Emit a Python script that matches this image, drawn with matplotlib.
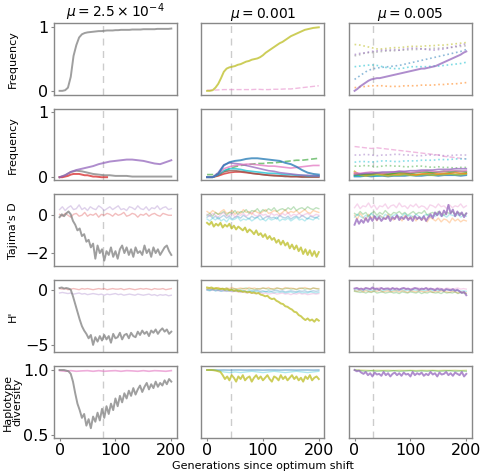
import matplotlib
matplotlib.use("Agg")
import matplotlib.pyplot as plt
import numpy as np

# --- Підписи та осі ---
col_titles = [r"$\mu = 2.5 \times 10^{-4}$", r"$\mu = 0.001$", r"$\mu = 0.005$"]
row_labels = ["Frequency", "Frequency", "Tajima's D", "H'", "Haplotype\ndiversity"]
row_ylims = [(-0.06, 1.07), (-0.05, 1.05), (-2.7, 1.1), (-5.65, 0.85), (0.475, 1.03)]
row_yticks = [[0, 1], [0, 1], [-2, 0], [-5, 0], [0.5, 1.0]]
x_ticks = [0, 100, 200]
shift_gen = [78, 43, 33]  # dashed vertical line per column

# --- Row 1: sweep frequency ---
freq1_mu1_gray = [0, 0, 0.01, 0.05, 0.22, 0.55, 0.72, 0.84, 0.89, 0.91, 0.92, 0.925, 0.93, 0.935,
                  0.94, 0.94, 0.945, 0.95, 0.95, 0.95, 0.955, 0.955, 0.96, 0.96, 0.96, 0.96, 0.965,
                  0.965, 0.965, 0.965, 0.97, 0.97, 0.97, 0.97, 0.97, 0.975, 0.975, 0.975, 0.975,
                  0.975, 0.98]
freq1_mu2_olive = [0, 0, 0.01, 0.05, 0.11, 0.2, 0.3, 0.35, 0.37, 0.38, 0.39, 0.41, 0.42, 0.44, 0.46,
                   0.47, 0.49, 0.5, 0.51, 0.53, 0.56, 0.6, 0.63, 0.66, 0.69, 0.72, 0.75, 0.77, 0.8,
                   0.83, 0.86, 0.88, 0.9, 0.92, 0.94, 0.96, 0.97, 0.98, 0.99, 0.995, 1.0]
freq1_mu2_pink = [0.01, 0.01, 0.015, 0.02, 0.02, 0.02, 0.02, 0.02, 0.02, 0.025, 0.02, 0.02, 0.025,
                  0.025, 0.03, 0.03, 0.04, 0.05, 0.06, 0.07, 0.08]
freq1_mu3_purple = [0.0, 0.03, 0.07, 0.1, 0.13, 0.16, 0.18, 0.19, 0.2, 0.2, 0.21, 0.22, 0.23, 0.24,
                    0.25, 0.26, 0.27, 0.28, 0.29, 0.3, 0.31, 0.32, 0.33, 0.34, 0.35, 0.35, 0.36, 0.37,
                    0.38, 0.39, 0.41, 0.43, 0.45, 0.47, 0.49, 0.51, 0.53, 0.55, 0.57, 0.6, 0.62]
freq1_mu3_yellow = [0.73, 0.72, 0.7, 0.68, 0.66, 0.66, 0.67, 0.68, 0.68, 0.69, 0.7, 0.7, 0.7, 0.71,
                    0.71, 0.72, 0.72, 0.73, 0.74, 0.75, 0.76]
freq1_mu3_lilac = [0.57, 0.59, 0.6, 0.62, 0.63, 0.64, 0.64, 0.65, 0.64, 0.66, 0.67, 0.67, 0.66, 0.65,
                   0.64, 0.65, 0.66, 0.68, 0.7, 0.72, 0.74]
freq1_mu3_grey = [0.55, 0.57, 0.6, 0.6, 0.61, 0.62, 0.63, 0.63, 0.64, 0.64, 0.65, 0.65, 0.66, 0.66,
                  0.67, 0.67, 0.68, 0.68, 0.69, 0.7, 0.71]
freq1_mu3_cyan = [0.38, 0.39, 0.4, 0.41, 0.4, 0.38, 0.36, 0.35, 0.35, 0.36, 0.38, 0.38, 0.38, 0.38,
                  0.39, 0.39, 0.4, 0.41, 0.42, 0.43, 0.45]
freq1_mu3_blue = [0.18, 0.24, 0.3, 0.34, 0.36, 0.37, 0.38, 0.39, 0.4, 0.42, 0.44, 0.46, 0.48, 0.5,
                  0.52, 0.54, 0.56, 0.58, 0.6, 0.62, 0.65]
freq1_mu3_orange = [0.05, 0.06, 0.07, 0.08, 0.08, 0.08, 0.07, 0.07, 0.07, 0.08, 0.08, 0.08, 0.09,
                    0.09, 0.09, 0.1, 0.1, 0.11, 0.11, 0.12, 0.13]

# --- Row 2: other haplotype frequencies ---
freq2_mu1_purple = [0, 0.03, 0.08, 0.11, 0.13, 0.15, 0.17, 0.2, 0.22, 0.24, 0.25, 0.26, 0.27, 0.27,
                    0.26, 0.25, 0.23, 0.21, 0.2, 0.23, 0.26]
freq2_mu1_gray = [0, 0.03, 0.08, 0.1, 0.09, 0.07, 0.05, 0.04, 0.03, 0.03, 0.02, 0.02, 0.02, 0.01,
                  0.01, 0.01, 0.01, 0.01, 0.01, 0.01, 0.01]
freq2_mu1_red = [0, 0, 0.01, 0.02, 0.04, 0.05, 0.05, 0.05, 0.04, 0.03, 0.03, 0.02, 0.01, 0.01,
                 0.005, 0, 0, 0]  # lost at generation 85
freq2_mu2_blue = [0, 0, 0.05, 0.18, 0.23, 0.25, 0.26, 0.28, 0.29, 0.29, 0.28, 0.27, 0.26, 0.25,
                  0.22, 0.2, 0.16, 0.11, 0.07, 0.05, 0.04]
freq2_mu2_purple = [0, 0, 0.07, 0.19, 0.22, 0.21, 0.2, 0.18, 0.16, 0.14, 0.12, 0.1, 0.09, 0.07,
                    0.06, 0.05, 0.04, 0.03, 0.03, 0.02, 0.02]
freq2_mu2_pink = [0, 0, 0.05, 0.13, 0.16, 0.18, 0.19, 0.2, 0.2, 0.19, 0.18, 0.17, 0.17, 0.16, 0.15,
                  0.14, 0.15, 0.16, 0.17, 0.18, 0.18]
freq2_mu2_green = [0.04, 0.04, 0.05, 0.09, 0.13, 0.16, 0.18, 0.19, 0.2, 0.21, 0.21, 0.22, 0.22,
                   0.23, 0.24, 0.25, 0.26, 0.26, 0.27, 0.28, 0.29]
freq2_mu2_cyan = [0, 0, 0.04, 0.1, 0.13, 0.13, 0.12, 0.1, 0.09, 0.08, 0.07, 0.06, 0.06, 0.05, 0.04,
                  0.04, 0.03, 0.03, 0.02, 0.02, 0.02]
freq2_mu2_brown = [0, 0, 0.03, 0.08, 0.1, 0.1, 0.09, 0.08, 0.06, 0.05, 0.04, 0.03, 0.02, 0.02, 0.01,
                   0.01, 0.01, 0.0, 0.0, 0.0, 0.0]
freq2_mu2_red = [0, 0, 0.02, 0.05, 0.07, 0.08, 0.08, 0.07, 0.06, 0.05, 0.04, 0.03, 0.03, 0.02, 0.02,
                 0.01, 0.01, 0.01, 0.01, 0.01, 0.01]
freq2_mu3_pink = [0.47, 0.46, 0.45, 0.44, 0.45, 0.44, 0.43, 0.42, 0.41, 0.4, 0.39, 0.38, 0.37, 0.36,
                  0.35, 0.34, 0.32, 0.31, 0.3, 0.29, 0.28]
freq2_mu3_grey = [0.34, 0.34, 0.35, 0.34, 0.33, 0.34, 0.34, 0.35, 0.35, 0.34, 0.34, 0.33, 0.33, 0.34,
                  0.34, 0.34, 0.33, 0.33, 0.34, 0.34, 0.34]
freq2_mu3_cyan = [0.23, 0.24, 0.24, 0.23, 0.24, 0.25, 0.25, 0.24, 0.24, 0.25, 0.25, 0.25, 0.26, 0.26,
                  0.26, 0.27, 0.27, 0.27, 0.28, 0.28, 0.28]
freq2_mu3_green = [0.17, 0.17, 0.18, 0.17, 0.16, 0.17, 0.18, 0.17, 0.17, 0.16, 0.16, 0.17, 0.17,
                   0.16, 0.15, 0.16, 0.15, 0.15, 0.14, 0.15, 0.15]
freq2_mu3_purple = [0.04, 0.05, 0.06, 0.06, 0.07, 0.08, 0.08, 0.08, 0.09, 0.09, 0.1, 0.1, 0.11, 0.11,
                    0.11, 0.12, 0.12, 0.12, 0.13, 0.13, 0.13]
freq2_mu3_magenta = [0.07, 0.06, 0.07, 0.08, 0.07, 0.06, 0.07, 0.08, 0.09, 0.08, 0.07, 0.08, 0.09,
                     0.1, 0.09, 0.08, 0.09, 0.1, 0.1, 0.09, 0.1]
freq2_mu3_green_s = [0.03, 0.04, 0.05, 0.05, 0.06, 0.06, 0.05, 0.06, 0.07, 0.07, 0.06, 0.07, 0.08,
                     0.08, 0.07, 0.08, 0.09, 0.08, 0.09, 0.09, 0.08]
freq2_mu3_teal = [0.02, 0.02, 0.03, 0.03, 0.02, 0.03, 0.04, 0.03, 0.03, 0.04, 0.04, 0.03, 0.04, 0.05,
                  0.04, 0.04, 0.05, 0.05, 0.04, 0.05, 0.05]
freq2_mu3_olive = [0.09, 0.03, 0.02, 0.03, 0.04, 0.03, 0.02, 0.03, 0.03, 0.04, 0.03, 0.03, 0.04, 0.04,
                   0.03, 0.04, 0.04, 0.05, 0.04, 0.04, 0.05]
freq2_mu3_orange = [0.06, 0.05, 0.04, 0.05, 0.06, 0.05, 0.04, 0.05, 0.05, 0.06, 0.05, 0.04, 0.05,
                    0.06, 0.06, 0.05, 0.06, 0.06, 0.07, 0.06, 0.06]
freq2_mu3_blue = [0.01, 0.01, 0.02, 0.01, 0.02, 0.02, 0.01, 0.02, 0.02, 0.02, 0.03, 0.02, 0.02, 0.03,
                  0.03, 0.02, 0.03, 0.03, 0.03, 0.02, 0.03]

# --- Row 3: Tajima's D ---
taj_mu1_gray = [-0.1, 0.05, -0.05, 0.1, 0.2, 0.05, -0.3, -0.5, -0.8, -0.7, -1.1, -1.0, -1.4, -1.3,
                -1.7, -1.5, -2.3, -1.6, -2.0, -1.8, -2.4, -1.9, -2.1, -1.7, -2.2, -1.9, -2.3, -1.8,
                -1.6, -2.0, -1.7, -2.1, -1.8, -2.2, -1.7, -2.0, -1.9, -2.1, -1.6, -2.0, -1.8, -2.2,
                -1.7, -2.0, -1.8, -2.1, -1.9, -1.7, -1.6, -1.9, -2.1]
taj_mu1_lilac = [0.3, 0.45, 0.25, 0.4, 0.5, 0.3, 0.35, 0.55, 0.3, 0.4, 0.25, 0.45, 0.35, 0.3, 0.5,
                 0.4, 0.25, 0.35, 0.45, 0.3, 0.4, 0.5, 0.3, 0.35, 0.25, 0.45, 0.4, 0.3, 0.5, 0.35, 0.3,
                 0.45, 0.25, 0.4, 0.35, 0.5, 0.3, 0.4, 0.45, 0.3, 0.35]
taj_mu1_red = [0.05, -0.05, 0.1, 0.0, -0.1, 0.05, 0.1, -0.05, 0.0, 0.15, -0.05, 0.05, 0.0, 0.1, -0.1,
               0.05, 0.0, 0.1, 0.05, -0.05, 0.1, 0.0, 0.05, 0.15, -0.05, 0.0, 0.1, 0.05, -0.1, 0.05,
               0.0, 0.1, -0.05, 0.05, 0.1, 0.0, -0.05, 0.1, 0.05, 0.0, 0.0]
taj_mu2_olive = [-0.4, -0.5, -0.35, -0.6, -0.45, -0.55, -0.4, -0.65, -0.5, -0.6, -0.45, -0.7, -0.55,
                 -0.75, -0.6, -0.7, -0.8, -0.65, -0.9, -0.75, -0.85, -1.0, -0.8, -1.05, -0.95, -1.15,
                 -1.0, -1.25, -1.1, -1.3, -1.2, -1.45, -1.3, -1.55, -1.35, -1.6, -1.45, -1.75, -1.55,
                 -1.8, -1.6, -1.9, -1.7, -2.05, -1.8, -2.1, -1.85, -2.15, -1.9, -2.2, -1.95]
taj_mu2_orange = [0.2, 0.1, 0.25, 0.15, 0.05, 0.2, 0.3, 0.1, 0.15, 0.25, 0.05, 0.2, 0.1, 0.3, 0.15,
                  0.2, 0.05, 0.25, 0.15, 0.1, 0.2, 0.3, 0.1, 0.15, 0.25, 0.2, 0.05, 0.15, 0.3, 0.1,
                  0.2, 0.15, 0.25, 0.1, 0.2, 0.3, 0.15, 0.1, 0.25, 0.2, 0.15]
taj_mu2_green = [0.0, 0.1, -0.05, 0.15, 0.05, 0.1, 0.2, 0.0, 0.15, 0.1, 0.25, 0.05, 0.2, 0.15, 0.3,
                 0.1, 0.25, 0.2, 0.35, 0.15, 0.3, 0.2, 0.35, 0.25, 0.4, 0.2, 0.3, 0.35, 0.25, 0.4, 0.3,
                 0.45, 0.25, 0.35, 0.4, 0.3, 0.45, 0.35, 0.3, 0.4, 0.35]
taj_mu2_blue = [-0.1, 0.0, -0.15, -0.05, -0.2, -0.1, 0.0, -0.15, -0.05, -0.2, -0.1, -0.05, -0.15,
                0.0, -0.1, -0.2, -0.05, -0.15, -0.1, 0.0, -0.2, -0.1, -0.05, -0.15, -0.1, -0.2, 0.0,
                -0.1, -0.15, -0.05, -0.2, -0.1, -0.05, -0.15, 0.0, -0.1, -0.2, -0.05, -0.1, -0.15,
                -0.05]
taj_mu2_pink = [0.05, -0.05, 0.1, 0.0, -0.1, 0.05, 0.15, -0.05, 0.0, 0.1, -0.1, 0.05, 0.0, 0.1,
                -0.05, 0.05, 0.15, 0.0, -0.05, 0.1, 0.0, 0.05, -0.1, 0.1, 0.0, 0.05, -0.05, 0.1, 0.0,
                0.15, -0.05, 0.05, 0.0, 0.1, -0.05, 0.05, 0.1, 0.0, -0.05, 0.05, 0.0]
taj_mu2_cyan = [-0.2, -0.3, -0.15, -0.25, -0.1, -0.3, -0.2, -0.35, -0.15, -0.25, -0.2, -0.1, -0.3,
                -0.2, -0.25, -0.15, -0.3, -0.2, -0.1, -0.25, -0.2, -0.3, -0.15, -0.25, -0.2, -0.1,
                -0.3, -0.2, -0.25, -0.15, -0.3, -0.2, -0.1, -0.25, -0.2, -0.3, -0.15, -0.2, -0.25,
                -0.1, -0.2]
taj_mu3_purple = [-0.5, -0.2, -0.45, -0.25, -0.4, -0.15, -0.35, -0.1, -0.3, -0.05, -0.25, -0.1, -0.3,
                  -0.15, -0.2, -0.05, -0.3, -0.1, -0.2, 0.0, -0.25, -0.1, -0.2, -0.05, -0.25, -0.1,
                  -0.3, -0.05, -0.2, -0.1, -0.25, -0.05, -0.3, -0.1, 0.05, -0.15, 0.15, 0.0, 0.2,
                  -0.05, 0.25, 0.05, 0.55, 0.1, 0.3, -0.05, 0.2, 0.0, 0.15, -0.1, 0.1]
taj_mu3_pink = [0.4, 0.6, 0.35, 0.5, 0.45, 0.65, 0.4, 0.55, 0.3, 0.5, 0.45, 0.6, 0.35, 0.5, 0.55,
                0.4, 0.65, 0.45, 0.5, 0.35, 0.55, 0.45, 0.6, 0.4, 0.5, 0.45, 0.3, 0.55, 0.5, 0.4, 0.6,
                0.45, 0.5, 0.35, 0.55, 0.4, 0.5, 0.45, 0.6, 0.4, 0.5]
taj_mu3_orange = [0.0, -0.2, 0.1, -0.1, -0.25, 0.05, -0.15, -0.05, -0.3, 0.0, -0.1, -0.2, 0.05,
                  -0.15, -0.25, -0.05, -0.1, -0.3, 0.0, -0.15, -0.2, -0.05, -0.3, -0.1, -0.25, -0.15,
                  -0.35, -0.1, -0.2, -0.3, -0.15, -0.35, -0.2, -0.25, -0.4, -0.15, -0.3, -0.2, -0.35,
                  -0.25, -0.3]
taj_mu3_green = [0.1, 0.0, 0.2, 0.05, 0.15, -0.05, 0.1, 0.2, 0.0, 0.15, 0.05, 0.25, 0.1, 0.0, 0.15,
                 0.1, 0.2, 0.05, 0.15, 0.0, 0.1, 0.2, 0.05, 0.15, 0.1, 0.25, 0.0, 0.1, 0.15, 0.05, 0.2,
                 0.1, 0.0, 0.15, 0.1, 0.2, 0.05, 0.15, 0.1, 0.0, 0.1]
taj_mu3_cyan = [-0.1, 0.05, -0.05, -0.15, 0.0, -0.1, 0.1, -0.05, -0.1, 0.0, -0.15, 0.05, -0.05, -0.1,
                0.0, 0.05, -0.1, -0.05, 0.1, -0.05, 0.0, -0.1, 0.05, -0.05, -0.15, 0.0, 0.05, -0.1,
                0.0, -0.05, 0.1, -0.05, 0.0, -0.1, 0.05, 0.0, -0.05, 0.05, -0.1, 0.0, -0.05]

# --- Row 4: H' ---
h_mu1_gray = [0.15, 0.2, 0.1, 0.15, 0.1, 0.0, -0.6, -1.3, -2.0, -2.7, -3.3, -3.7, -4.0, -4.4, -4.1,
              -5.0, -4.3, -4.7, -4.2, -4.6, -4.1, -4.5, -4.2, -4.8, -4.0, -4.4, -4.3, -3.9, -4.5,
              -4.1, -4.0, -4.4, -3.9, -4.2, -4.3, -3.8, -4.1, -3.7, -4.0, -3.8, -4.2, -3.7, -3.9,
              -3.6, -4.0, -3.7, -3.5, -3.8, -3.6, -4.0, -3.8]
h_mu1_red = [0.1, 0.05, 0.1, 0.0, 0.05, 0.1, 0.05, 0.0, 0.1, 0.05, 0.1, 0.05, 0.0, 0.05, 0.1, 0.05,
             0.1, 0.0, 0.05, 0.1, 0.05, 0.05, 0.1, 0.0, 0.05, 0.1, 0.05, 0.0, 0.05, 0.1, 0.05, 0.1,
             0.05, 0.0, 0.1, 0.05, 0.05, 0.1, 0.0, 0.05, 0.1]
h_mu1_lilac = [-0.3, -0.25, -0.3, -0.35, -0.3, -0.4, -0.35, -0.3, -0.4, -0.35, -0.45, -0.4, -0.35,
               -0.4, -0.45, -0.4, -0.5, -0.4, -0.45, -0.4, -0.35, -0.45, -0.4, -0.5, -0.45, -0.4,
               -0.45, -0.5, -0.4, -0.45, -0.5, -0.45, -0.4, -0.5, -0.45, -0.55, -0.45, -0.5, -0.45,
               -0.55, -0.5]
h_mu2_olive = [0.2, 0.15, 0.2, 0.1, 0.15, 0.1, 0.05, 0.1, 0.0, 0.05, -0.05, 0.0, -0.1, -0.05, -0.15,
               -0.1, -0.2, -0.15, -0.25, -0.2, -0.3, -0.25, -0.35, -0.3, -0.45, -0.5, -0.6, -0.55,
               -0.75, -0.85, -0.8, -1.0, -1.1, -1.25, -1.3, -1.5, -1.55, -1.7, -1.8, -2.0, -2.05,
               -2.3, -2.4, -2.6, -2.75, -2.6, -2.8, -2.7, -2.9, -2.65, -2.8]
h_mu2_green = [0.05, 0.0, 0.1, 0.05, 0.0, 0.1, 0.05, 0.15, 0.0, 0.05, 0.1, 0.0, 0.05, 0.1, 0.15, 0.05,
               0.1, 0.0, 0.1, 0.05, 0.15, 0.1, 0.05, 0.1, 0.0, 0.15, 0.1, 0.05, 0.1, 0.15, 0.05, 0.1,
               0.0, 0.1, 0.15, 0.05, 0.1, 0.05, 0.15, 0.1, 0.05]
h_mu2_cyan = [0.0, -0.05, 0.0, -0.1, -0.05, -0.1, -0.05, -0.15, -0.1, -0.05, -0.15, -0.1, -0.2, -0.1,
              -0.15, -0.2, -0.1, -0.2, -0.15, -0.25, -0.2, -0.15, -0.25, -0.2, -0.3, -0.2, -0.25,
              -0.2, -0.3, -0.25, -0.2, -0.3, -0.25, -0.2, -0.3, -0.25, -0.3, -0.2, -0.25, -0.3, -0.25]
h_mu2_pink = [0.0, 0.05, -0.05, 0.0, -0.1, -0.05, -0.1, -0.15, -0.1, -0.2, -0.15, -0.2, -0.25, -0.2,
              -0.3, -0.25, -0.3, -0.35, -0.3, -0.25, -0.35, -0.3, -0.4, -0.35, -0.3, -0.4, -0.35,
              -0.3, -0.4, -0.35, -0.45, -0.35, -0.4, -0.3, -0.4, -0.35, -0.45, -0.4, -0.35, -0.4,
              -0.35]
h_mu2_orange = [0.1, 0.15, 0.05, 0.1, 0.2, 0.1, 0.05, 0.15, 0.1, 0.2, 0.05, 0.1, 0.15, 0.1, 0.05,
                0.2, 0.1, 0.15, 0.05, 0.1, 0.15, 0.1, 0.2, 0.05, 0.1, 0.15, 0.1, 0.05, 0.2, 0.1, 0.15,
                0.1, 0.05, 0.15, 0.1, 0.2, 0.1, 0.05, 0.15, 0.1, 0.1]
h_mu2_blue = [-0.05, -0.1, 0.0, -0.1, -0.05, -0.15, -0.1, -0.05, -0.1, -0.15, -0.1, -0.05, -0.15,
              -0.1, -0.2, -0.1, -0.15, -0.1, -0.05, -0.15, -0.1, -0.2, -0.1, -0.15, -0.1, -0.05,
              -0.15, -0.1, -0.2, -0.15, -0.1, -0.15, -0.2, -0.1, -0.15, -0.1, -0.2, -0.15, -0.1,
              -0.15, -0.1]
h_mu3_purple = [0.1, 0.15, 0.05, 0.1, 0.0, 0.15, 0.1, 0.05, 0.2, 0.05, 0.1, 0.0, 0.15, 0.05, 0.1,
                0.1, 0.0, 0.15, 0.05, 0.1, 0.0, 0.1, 0.15, 0.05, 0.1, 0.0, 0.05, 0.15, 0.1, 0.0, 0.1,
                0.05, 0.15, 0.0, 0.1, 0.05, -0.05, 0.1, 0.0, 0.05, -0.1, 0.05, 0.0, -0.05, 0.05,
                -0.1, 0.0, -0.15, -0.3, -0.2, -0.5]
h_mu3_green = [-0.15, -0.2, -0.25, -0.2, -0.3, -0.2, -0.25, -0.15, -0.3, -0.25, -0.2, -0.3, -0.25,
               -0.2, -0.3, -0.25, -0.35, -0.2, -0.25, -0.3, -0.2, -0.25, -0.3, -0.2, -0.35, -0.25,
               -0.3, -0.2, -0.25, -0.3, -0.25, -0.35, -0.2, -0.3, -0.25, -0.3, -0.2, -0.35, -0.25,
               -0.3, -0.35]
h_mu3_orange = [-0.1, -0.15, -0.05, -0.2, -0.1, -0.15, -0.2, -0.1, -0.15, -0.05, -0.2, -0.15, -0.1,
                -0.2, -0.15, -0.1, -0.2, -0.1, -0.15, -0.25, -0.1, -0.15, -0.2, -0.1, -0.15, -0.2,
                -0.15, -0.1, -0.25, -0.15, -0.2, -0.1, -0.15, -0.2, -0.25, -0.15, -0.2, -0.3, -0.2,
                -0.25, -0.3]
h_mu3_pink = [0.1, 0.15, 0.05, 0.1, 0.15, 0.1, 0.05, 0.15, 0.1, 0.2, 0.1, 0.05, 0.15, 0.1, 0.1, 0.15,
              0.05, 0.1, 0.15, 0.1, 0.05, 0.15, 0.1, 0.15, 0.05, 0.1, 0.15, 0.1, 0.05, 0.1, 0.15,
              0.1, 0.05, 0.15, 0.1, 0.05, 0.1, 0.15, 0.05, 0.1, 0.05]
h_mu3_cyan = [-0.05, 0.0, -0.1, -0.05, 0.0, -0.1, -0.05, -0.1, 0.0, -0.05, -0.1, -0.05, 0.0, -0.1,
              -0.05, -0.1, -0.05, 0.0, -0.1, -0.05, -0.1, 0.0, -0.05, -0.1, -0.05, -0.1, -0.05, 0.0,
              -0.1, -0.05, -0.1, -0.05, -0.1, 0.0, -0.05, -0.1, -0.05, -0.1, -0.15, -0.1, -0.15]

# --- Row 5: haplotype diversity ---
hap_mu1_gray = [1.0, 1.0, 1.0, 0.995, 0.99, 0.97, 0.91, 0.82, 0.74, 0.69, 0.63, 0.66, 0.57, 0.62,
                0.55, 0.64, 0.6, 0.67, 0.61, 0.7, 0.63, 0.72, 0.66, 0.74, 0.69, 0.78, 0.72, 0.8, 0.75,
                0.82, 0.78, 0.84, 0.8, 0.86, 0.81, 0.85, 0.88, 0.83, 0.87, 0.9, 0.85, 0.89, 0.86,
                0.91, 0.87, 0.9, 0.88, 0.92, 0.89, 0.93, 0.91]
hap_mu1_pink = [0.995, 0.99, 0.995, 0.99, 0.993, 0.995, 0.99, 0.995, 0.99, 0.993, 0.995, 0.99,
                0.995, 0.993, 0.99, 0.995, 0.99, 0.995, 0.993, 0.99, 0.995]
hap_mu2_olive = [1.0, 1.0, 1.0, 0.998, 0.995, 0.99, 0.985, 0.96, 0.93, 0.95, 0.92, 0.96, 0.94, 0.91,
                 0.95, 0.93, 0.96, 0.92, 0.94, 0.95, 0.91, 0.94, 0.96, 0.93, 0.95, 0.92, 0.94, 0.96,
                 0.93, 0.91, 0.95, 0.94, 0.92, 0.96, 0.93, 0.95, 0.92, 0.94, 0.96, 0.93, 0.95, 0.92,
                 0.94, 0.91, 0.95, 0.93, 0.96, 0.92, 0.94, 0.95, 0.93]
hap_mu2_blue = [1.0, 1.0, 0.999, 1.0, 0.999, 1.0, 1.0, 0.999, 1.0, 1.0, 0.999, 1.0, 1.0, 0.999, 1.0,
                1.0, 0.999, 1.0, 1.0, 0.999, 1.0]
hap_mu2_cyan = [1.0, 1.0, 0.995, 0.985, 0.98, 0.985, 0.98, 0.985, 0.99, 0.985, 0.98, 0.985, 0.99,
                0.985, 0.98, 0.985, 0.99, 0.985, 0.98, 0.985, 0.99]
hap_mu3_purple = [1.0, 0.99, 0.995, 0.98, 0.97, 0.985, 0.96, 0.975, 0.95, 0.98, 0.965, 0.97, 0.955,
                  0.985, 0.96, 0.975, 0.95, 0.97, 0.98, 0.96, 0.975, 0.955, 0.98, 0.965, 0.97, 0.95,
                  0.985, 0.96, 0.975, 0.965, 0.98, 0.955, 0.97, 0.96, 0.985, 0.965, 0.975, 0.95,
                  0.98, 0.965, 0.97, 0.985, 0.96, 0.975, 0.955, 0.98, 0.97, 0.96, 0.985, 0.95, 0.97]
hap_mu3_green = [1.0, 0.995, 0.99, 0.995, 0.99, 0.993, 0.99, 0.995, 0.99, 0.992, 0.995, 0.99, 0.993,
                 0.99, 0.995, 0.99, 0.992, 0.995, 0.99, 0.993, 0.99]
hap_mu3_olive = [1.0, 1.0, 0.998, 0.996, 0.998, 0.997, 0.998, 0.996, 0.998, 0.997, 0.998, 0.996,
                 0.998, 0.997, 0.998, 0.996, 0.998, 0.997, 0.998, 0.996, 0.998]

# tab10
BLUE, ORANGE, GREEN, RED, PURPLE = "#1f77b4", "#ff7f0e", "#2ca02c", "#d62728", "#9467bd"
BROWN, PINK, GRAY, OLIVE, CYAN = "#8c564b", "#e377c2", "#7f7f7f", "#bcbd22", "#17becf"


def main(vals, color, end=200):
    return dict(y=vals, color=color, ls="-", alpha=0.75, lw=1.4, end=end)


def faint(vals, color, ls="-", alpha=0.3, lw=1.0):
    return dict(y=vals, color=color, ls=ls, alpha=alpha, lw=lw, end=200)


def mid(vals, color, ls="-", alpha=0.75, lw=1.2):
    return dict(y=vals, color=color, ls=ls, alpha=alpha, lw=lw, end=200)


panels = [
    [
        [main(freq1_mu1_gray, GRAY)],
        [mid(freq1_mu2_pink, PINK, "--", 0.5, 1.0), main(freq1_mu2_olive, OLIVE)],
        [mid(freq1_mu3_yellow, OLIVE, ":", 0.55), mid(freq1_mu3_grey, GRAY, ":", 0.45),
         mid(freq1_mu3_lilac, PURPLE, ":", 0.55), mid(freq1_mu3_cyan, CYAN, ":", 0.55),
         mid(freq1_mu3_blue, BLUE, ":", 0.5), mid(freq1_mu3_orange, ORANGE, ":", 0.55),
         main(freq1_mu3_purple, PURPLE)],
    ],
    [
        [main(freq2_mu1_gray, GRAY), main(freq2_mu1_red, RED, end=85),
         main(freq2_mu1_purple, PURPLE)],
        [mid(freq2_mu2_green, GREEN, "--", 0.6), mid(freq2_mu2_red, RED), mid(freq2_mu2_brown, BROWN),
         mid(freq2_mu2_cyan, CYAN), mid(freq2_mu2_purple, PURPLE), mid(freq2_mu2_pink, PINK),
         mid(freq2_mu2_blue, BLUE, lw=1.4)],
        [mid(freq2_mu3_pink, PINK, "--", 0.5, 1.0), mid(freq2_mu3_grey, PURPLE, ":", 0.45),
         mid(freq2_mu3_cyan, CYAN, ":", 0.5), mid(freq2_mu3_green, GREEN, ":", 0.45),
         mid(freq2_mu3_blue, BLUE), mid(freq2_mu3_teal, CYAN), mid(freq2_mu3_olive, OLIVE),
         mid(freq2_mu3_orange, ORANGE), mid(freq2_mu3_green_s, GREEN), mid(freq2_mu3_magenta, PINK),
         mid(freq2_mu3_purple, PURPLE)],
    ],
    [
        [faint(taj_mu1_lilac, PURPLE), faint(taj_mu1_red, RED), main(taj_mu1_gray, GRAY)],
        [faint(taj_mu2_orange, ORANGE), faint(taj_mu2_green, GREEN), faint(taj_mu2_blue, BLUE),
         faint(taj_mu2_pink, PINK), faint(taj_mu2_cyan, CYAN), main(taj_mu2_olive, OLIVE)],
        [faint(taj_mu3_pink, PINK), faint(taj_mu3_orange, ORANGE), faint(taj_mu3_green, GREEN),
         faint(taj_mu3_cyan, CYAN), main(taj_mu3_purple, PURPLE)],
    ],
    [
        [faint(h_mu1_red, RED), faint(h_mu1_lilac, PURPLE), main(h_mu1_gray, GRAY)],
        [faint(h_mu2_green, GREEN), faint(h_mu2_orange, ORANGE), faint(h_mu2_blue, BLUE),
         faint(h_mu2_cyan, CYAN), faint(h_mu2_pink, PINK), main(h_mu2_olive, OLIVE)],
        [faint(h_mu3_pink, PINK), faint(h_mu3_cyan, CYAN), faint(h_mu3_orange, ORANGE),
         faint(h_mu3_green, GREEN), main(h_mu3_purple, PURPLE)],
    ],
    [
        [faint(hap_mu1_pink, PINK, alpha=0.6, lw=1.2), main(hap_mu1_gray, GRAY)],
        [faint(hap_mu2_blue, BLUE, alpha=0.45, lw=1.2), faint(hap_mu2_cyan, CYAN, alpha=0.35),
         main(hap_mu2_olive, OLIVE)],
        [faint(hap_mu3_olive, OLIVE, alpha=0.4), faint(hap_mu3_green, GREEN, alpha=0.4),
         main(hap_mu3_purple, PURPLE)],
    ],
]

fig, axes = plt.subplots(5, 3, figsize=(4.82, 4.76), dpi=100)
fig.subplots_adjust(left=0.112, right=0.979, top=0.952, bottom=0.080, wspace=0.2, hspace=0.195)

for r in range(5):
    for c in range(3):
        ax = axes[r, c]
        ax.axvline(shift_gen[c], color="#cccccc", ls=(0, (5, 4)), lw=1.0, zorder=0)
        for s in panels[r][c]:
            x = np.linspace(0, s["end"], len(s["y"]))
            ax.plot(x, s["y"], color=s["color"], ls=s["ls"], alpha=s["alpha"], lw=s["lw"])
        ax.set_xlim(-10, 210)
        ax.set_ylim(*row_ylims[r])
        ax.set_yticks(row_yticks[r])
        ax.set_xticks(x_ticks)
        for sp in ax.spines.values():
            sp.set_color("#888888")
            sp.set_linewidth(1.0)
        ax.tick_params(colors="#888888", labelcolor="black", labelsize=11.5, length=2.5, pad=1.5)
        if r < 4:
            ax.tick_params(bottom=False, labelbottom=False)
        if c > 0:
            ax.tick_params(left=False, labelleft=False)
        elif r < 4:
            ax.set_ylabel(row_labels[r], fontsize=8)
            ax.yaxis.set_label_coords(-0.29, 0.5)
        else:
            ax.set_ylabel(row_labels[r], fontsize=8, linespacing=0.95)
            ax.yaxis.set_label_coords(-0.255, 0.5)

for c in range(3):
    axes[0, c].set_title(col_titles[c], fontsize=10, pad=3)

axes[4, 1].set_xlabel("Generations since optimum shift", fontsize=8, labelpad=2)

fig.savefig("out.png", dpi=100)
